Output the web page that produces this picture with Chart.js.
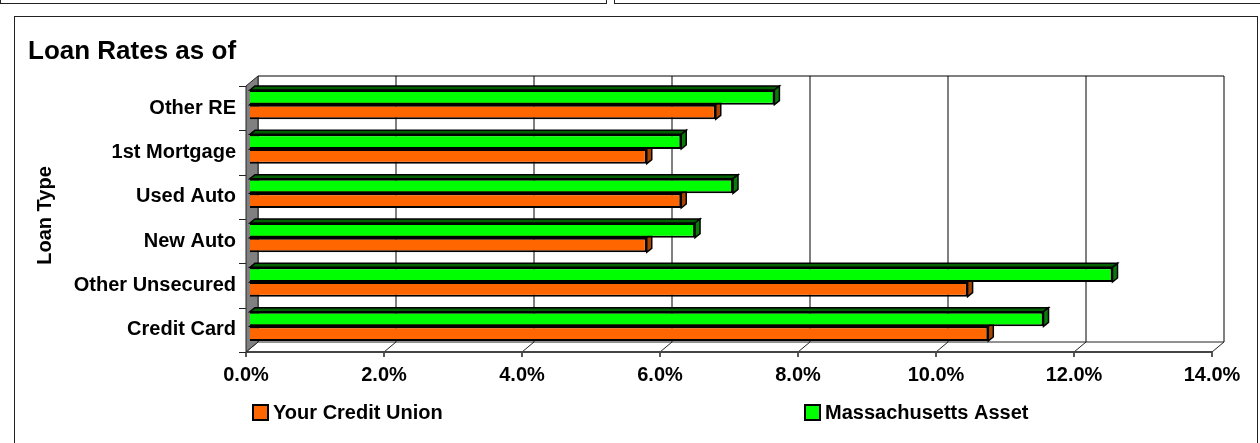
<!DOCTYPE html>
<html>
<head>
<meta charset="utf-8">
<script src="https://cdn.jsdelivr.net/npm/chart.js@4.4.1/dist/chart.umd.min.js"></script>
<style>
  body { margin: 0; background: #fff; overflow: hidden; }
  .panel { position: absolute; border: 1.5px solid #222; box-sizing: border-box; }
  #myChart { position: absolute; left: 0; top: 0; }
</style>
</head>
<body>
<div class="panel" style="left:0;top:-20px;width:607px;height:24px;"></div>
<div class="panel" style="left:614px;top:-20px;width:660px;height:24px;"></div>
<div class="panel" style="left:14px;top:16px;width:1244px;height:450px;"></div>
<canvas id="myChart" width="1260" height="443"></canvas>
<script>
// loan types, bottom to top
var categories = ["Credit Card", "Other Unsecured", "New Auto", "Used Auto", "1st Mortgage", "Other RE"];
var yourCreditUnion = [10.7, 10.4, 5.75, 6.25, 5.75, 6.75];
var massAsset = [11.5, 12.5, 6.45, 7.0, 6.25, 7.6];
var tickValues = [0, 2, 4, 6, 8, 10, 12, 14];

var FONT = "'Liberation Sans', Arial, sans-serif";

// offsets of the front face, back wall and bar depth from the bar plane
var front = [-4, 3.5];
var back = [8, -6.5];
var barDepth = [5, -4];

function line(ctx, x1, y1, x2, y2) {
  ctx.beginPath();
  ctx.moveTo(x1, y1);
  ctx.lineTo(x2, y2);
  ctx.stroke();
}

function poly(ctx, pts, fill, stroke, lw) {
  ctx.beginPath();
  ctx.moveTo(pts[0][0], pts[0][1]);
  for (var i = 1; i < pts.length; i++) ctx.lineTo(pts[i][0], pts[i][1]);
  ctx.closePath();
  ctx.fillStyle = fill;
  ctx.fill();
  ctx.lineWidth = lw;
  ctx.strokeStyle = stroke;
  ctx.stroke();
}

var box3d = {
  id: "box3d",
  beforeDatasetsDraw: function (chart) {
    var ctx = chart.ctx;
    var a = chart.chartArea;
    var xs = chart.scales.x;
    var fx = front[0], fy = front[1], bx = back[0], by = back[1];
    ctx.save();

    // back wall
    ctx.fillStyle = "#fff";
    ctx.fillRect(a.left + bx, a.top + by, a.right - a.left, a.bottom - a.top);
    ctx.strokeStyle = "#000";
    ctx.lineWidth = 1;
    xs.ticks.forEach(function (t) {
      var px = xs.getPixelForValue(t.value);
      line(ctx, px + bx, a.top + by, px + bx, a.bottom + by);
    });
    line(ctx, a.left + bx, a.top + by, a.right + bx, a.top + by);

    // floor
    ctx.strokeStyle = "#222";
    line(ctx, a.left + bx, a.bottom + by, a.right + bx, a.bottom + by);
    xs.ticks.forEach(function (t) {
      var px = xs.getPixelForValue(t.value);
      line(ctx, px + fx, a.bottom + fy, px + bx, a.bottom + by);
      ctx.lineWidth = 1.5;
      line(ctx, px + fx, a.bottom + fy, px + fx, a.bottom + fy + 5);
      ctx.lineWidth = 1;
    });
    ctx.strokeStyle = "#444";
    ctx.lineWidth = 2;
    line(ctx, a.left + fx, a.bottom + fy, a.right + fx, a.bottom + fy);

    // left wall
    poly(ctx, [
      [a.left + fx, a.top + fy], [a.left + bx, a.top + by],
      [a.left + bx, a.bottom + by], [a.left + fx, a.bottom + fy]
    ], "#808080", "#222", 1);

    // category ticks
    var band = (a.bottom - a.top) / categories.length;
    ctx.strokeStyle = "#222";
    ctx.lineWidth = 1;
    for (var k = 0; k <= categories.length; k++) {
      var py = Math.round(a.top + fy + k * band) + 0.5;
      line(ctx, a.left + fx - 7, py, a.left + fx, py);
    }

    // depth faces of the bars, drawn under the front faces
    chart.data.datasets.forEach(function (ds, di) {
      var meta = chart.getDatasetMeta(di);
      meta.data.forEach(function (el) {
        var p = el.getProps(["x", "y", "base", "height"], true);
        var top = p.y - p.height / 2, bottom = p.y + p.height / 2;
        var dx = barDepth[0], dy = barDepth[1];
        poly(ctx, [[p.base, top], [p.base + dx, top + dy], [p.x + dx, top + dy], [p.x, top]], ds.topColor, "#000", 1.5);
        poly(ctx, [[p.x, top], [p.x + dx, top + dy], [p.x + dx, bottom + dy], [p.x, bottom]], ds.sideColor, "#000", 1.5);
      });
    });
    ctx.restore();
  },
  afterDraw: function (chart) {
    var ctx = chart.ctx;
    ctx.save();
    ctx.fillStyle = "#000";
    ctx.font = "bold 26px " + FONT;
    ctx.textBaseline = "alphabetic";
    ctx.fillText("Loan Rates as of", 28, 59);

    // legend, series in reverse of drawing order
    var spots = [253, 805];
    var items = chart.data.datasets.slice().reverse();
    ctx.font = "bold 20px " + FONT;
    ctx.textBaseline = "middle";
    items.forEach(function (ds, i) {
      ctx.fillStyle = ds.backgroundColor;
      ctx.fillRect(spots[i], 405, 15, 15);
      ctx.lineWidth = 2;
      ctx.strokeStyle = "#000";
      ctx.strokeRect(spots[i], 405, 15, 15);
      ctx.fillStyle = "#000";
      ctx.fillText(ds.label, spots[i] + 20, 413.5);
    });
    ctx.restore();
  }
};

var ctx = document.getElementById("myChart");

var myChart = new Chart(ctx, {
  type: "bar",
  data: {
    labels: categories,
    datasets: [{
      label: "Massachusetts Asset",
      data: massAsset,
      backgroundColor: "#00FF00",
      topColor: "#006000",
      sideColor: "#0A7A0A",
      borderColor: "#000",
      borderWidth: 2
    }, {
      label: "Your Credit Union",
      data: yourCreditUnion,
      backgroundColor: "#FF6600",
      topColor: "#8A3800",
      sideColor: "#A84400",
      borderColor: "#000",
      borderWidth: 2
    }]
  },
  options: {
    indexAxis: "y",
    responsive: false,
    animation: false,
    categoryPercentage: 0.66,
    barPercentage: 1.0,
    layout: { padding: { left: 0, top: 82.5, right: 44, bottom: 0 } },
    plugins: {
      legend: { display: false },
      title: { display: false },
      tooltip: { enabled: false }
    },
    scales: {
      x: {
        min: 0,
        max: 14,
        afterFit: function (scale) { scale.height = 94.5; },
        afterBuildTicks: function (scale) {
          scale.ticks = tickValues.map(function (v) { return { value: v }; });
        },
        grid: { display: false, drawTicks: false },
        border: { display: false },
        ticks: {
          padding: 14.5,
          labelOffset: -4,
          color: "#000",
          font: { family: FONT, size: 20, weight: "bold" },
          callback: function (v) { return Number(v).toFixed(1) + "%"; }
        }
      },
      y: {
        reverse: true,
        afterFit: function (scale) { scale.width = 250; },
        grid: { display: false, drawTicks: false },
        border: { display: false },
        ticks: {
          padding: 14,
          labelOffset: 3.5,
          color: "#000",
          font: { family: FONT, size: 20, weight: "bold" }
        },
        title: {
          display: true,
          text: "Loan Type",
          color: "#000",
          padding: { top: 33, bottom: 0 },
          font: { family: FONT, size: 20, weight: "bold" }
        }
      }
    }
  },
  plugins: [box3d]
});
</script>
</body>
</html>
